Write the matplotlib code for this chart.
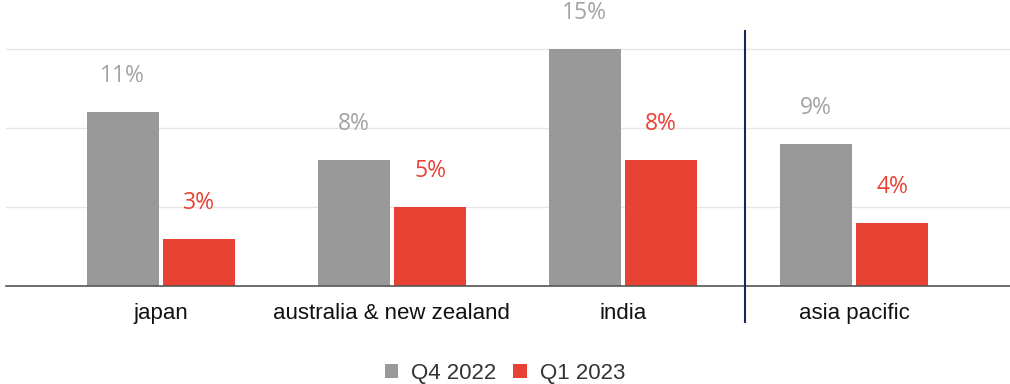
import numpy as np
import matplotlib.pyplot as plt

# growth by market, Q4 2022 vs Q1 2023
regions = ["japan", "australia & new zealand", "india", "asia pacific"]
q4_2022 = [11, 8, 15, 9]
q1_2023 = [3, 5, 8, 4]
series_names = ["Q4 2022", "Q1 2023"]

GRAY = "#999999"
RED = "#E84235"
GRAY_TXT = "#A3A3A3"
NAVY = "#1B2755"

fig = plt.figure(figsize=(10.1, 3.84), dpi=100)
ax = fig.add_axes([6 / 1010, 98 / 384, 1004 / 1010, 253 / 384])

x = np.arange(len(regions))
w = 0.31
off = 0.165

b1 = ax.bar(x - off, q4_2022, width=w, color=GRAY, label=series_names[0], zorder=3)
b2 = ax.bar(x + off, q1_2023, width=w, color=RED, label=series_names[1], zorder=3)

for rect, v in zip(b1, q4_2022):
    ax.text(rect.get_x() + rect.get_width() / 2, v + 2.25, f"{v}%", ha="center",
            va="center", fontsize=16.5, color=GRAY_TXT, family="Open Sans", clip_on=False)
for rect, v in zip(b2, q1_2023):
    ax.text(rect.get_x() + rect.get_width() / 2, v + 2.25, f"{v}%", ha="center",
            va="center", fontsize=16.5, color=RED, family="Open Sans", clip_on=False)

ax.set_xlim(-0.67, 3.675)
ax.set_ylim(0, 16)
ax.set_yticks([5, 10, 15])
ax.set_yticklabels([])
ax.tick_params(axis="y", length=0)
ax.grid(axis="y", color="#E6E6E6", linewidth=1, zorder=0)

ax.set_xticks(x)
ax.set_xticklabels(regions, fontsize=16, family="Liberation Sans", color="#111111")
ax.tick_params(axis="x", length=0, pad=12)

for s in ["top", "right", "left"]:
    ax.spines[s].set_visible(False)
ax.spines["bottom"].set_color("#555555")
ax.spines["bottom"].set_linewidth(1.2)
ax.spines["bottom"].set_zorder(4)

# divider between the markets and the regional total
ax.plot([2.53, 2.53], [-2.28, 16.1], color=NAVY, linewidth=1.5, clip_on=False, zorder=5)

leg = fig.legend(handles=[b1, b2], labels=series_names, loc="center",
                 bbox_to_anchor=(0.5, 0.028), ncol=2, frameon=False,
                 prop={"family": "Liberation Sans", "size": 16},
                 handlelength=0.6, handleheight=0.6, handletextpad=0.6,
                 columnspacing=0.75)
for t in leg.get_texts():
    t.set_color("#333333")

fig.savefig("out.png", dpi=100)
